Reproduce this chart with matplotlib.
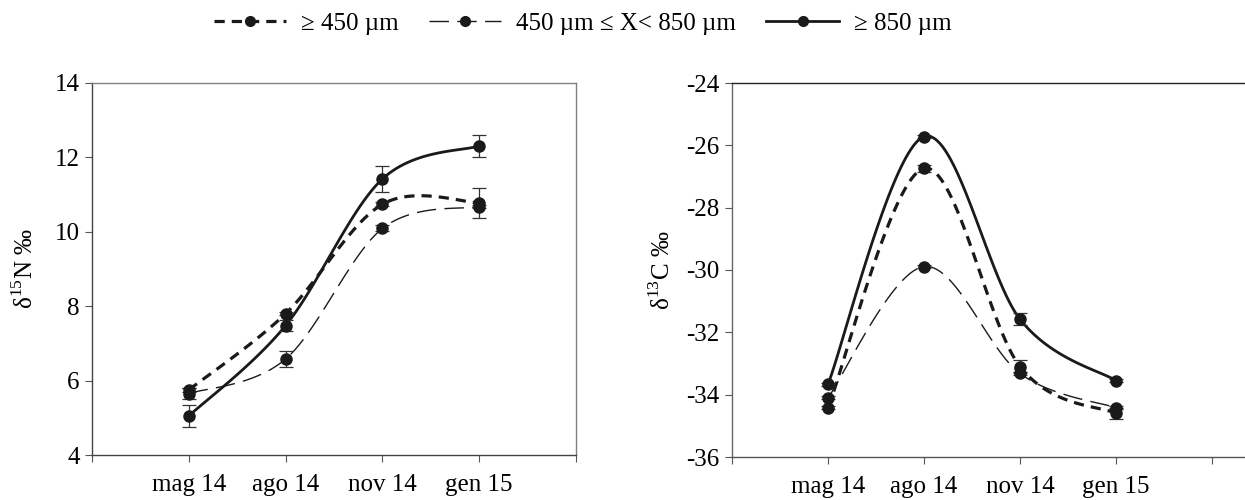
import numpy as np
import matplotlib
matplotlib.use("Agg")
import matplotlib.pyplot as plt
from matplotlib.lines import Line2D

plt.rcParams["font.family"] = ["Liberation Serif", "DejaVu Serif"]
plt.rcParams["mathtext.fontset"] = "custom"
plt.rcParams["mathtext.rm"] = "Liberation Serif"
plt.rcParams["axes.unicode_minus"] = False

months = ["mag 14", "ago 14", "nov 14", "gen 15"]
series_labels = ["\u2265 450 \u00b5m", "450 \u00b5m \u2264 X< 850 \u00b5m", "\u2265 850 \u00b5m"]

# delta 15N (per mil)
n15_450 = [5.75, 7.80, 10.74, 10.78]
n15_450_850 = [5.65, 6.58, 10.09, 10.68]
n15_850 = [5.05, 7.48, 11.42, 12.31]
n15_450_err = [0.05, 0.05, 0.05, 0.40]
n15_450_850_err = [0.15, 0.22, 0.08, 0.05]
n15_850_err = [0.30, 0.15, 0.34, 0.30]

# delta 13C (per mil)
c13_450 = [-34.42, -26.74, -33.10, -34.60]
c13_450_850 = [-34.10, -29.89, -33.32, -34.42]
c13_850 = [-33.67, -25.72, -31.58, -33.55]
c13_450_err = [0.05, 0.12, 0.20, 0.18]
c13_450_850_err = [0.05, 0.05, 0.05, 0.05]
c13_850_err = [0.05, 0.05, 0.19, 0.05]

styles = [
    dict(color="#1a1a1a", lw=2.3, dashes=(3.2, 2.2)),
    dict(color="#1a1a1a", lw=1.0, dashes=(14, 6)),
    dict(color="#1a1a1a", lw=2.0),
]


def smooth(x, y, n=40):
    """Smoothed Bezier path through the points (Catmull-Rom style)."""
    P = np.column_stack([np.asarray(x, float), np.asarray(y, float)])
    Pe = np.vstack([P[0], P, P[-1]])
    out = []
    t = np.linspace(0, 1, n)[:, None]
    for i in range(len(P) - 1):
        p0 = Pe[i + 1]
        p3 = Pe[i + 2]
        c1 = p0 + (Pe[i + 2] - Pe[i]) / 6.0
        c2 = p3 - (Pe[i + 3] - Pe[i + 1]) / 6.0
        seg = ((1 - t) ** 3) * p0 + 3 * ((1 - t) ** 2) * t * c1 + 3 * (1 - t) * t ** 2 * c2 + t ** 3 * p3
        out.append(seg if i == 0 else seg[1:])
    seg = np.vstack(out)
    return seg[:, 0], seg[:, 1]


def draw_panel(ax, series, errs, ylim, yticks, ylabel, labelpad):
    xs = np.arange(1, len(months) + 1)
    for vals, err, st in zip(series, errs, styles):
        sx, sy = smooth(xs, vals)
        kw = dict(color=st["color"], lw=st["lw"])
        if "dashes" in st:
            kw["dashes"] = st["dashes"]
        else:
            kw["linestyle"] = "-"
        ax.plot(sx, sy, solid_capstyle="butt", dash_capstyle="butt", zorder=2, **kw)
        ax.errorbar(xs, vals, yerr=err, fmt="none", ecolor="#333333",
                    elinewidth=0.9, capsize=5, capthick=0.9, zorder=3)
        ax.plot(xs, vals, "o", color="#1a1a1a", ms=8, zorder=4)
    ax.set_ylim(*ylim)
    ax.set_yticks(yticks)
    ax.set_xticks(np.arange(0, 6))
    ax.set_xticklabels([""] + months + [""])
    ax.tick_params(axis="both", direction="out", length=5, width=0.8,
                   colors="#555555", labelcolor="black", labelsize=18)
    ax.tick_params(axis="x", pad=9)
    ax.tick_params(axis="y", pad=4)
    ax.set_ylabel(ylabel, fontsize=18, labelpad=labelpad)


fig = plt.figure(figsize=(12.45, 5.0), dpi=100)

ax1 = fig.add_axes([92 / 1245, 45 / 500, 484 / 1245, 372 / 500])
draw_panel(ax1, [n15_450, n15_450_850, n15_850],
           [n15_450_err, n15_450_850_err, n15_850_err],
           (4, 14), np.arange(4, 15, 2), "\u03b4$^{15}$N \u2030", 12)
ax1.set_xlim(0, 5)
for s in ["top", "right"]:
    ax1.spines[s].set_color("#808080")
for s in ["left", "bottom"]:
    ax1.spines[s].set_color("#444444")
for s in ax1.spines.values():
    s.set_linewidth(1.0)

ax2 = fig.add_axes([732 / 1245, 43 / 500, 528 / 1245, 374 / 500])
draw_panel(ax2, [c13_450, c13_450_850, c13_850],
           [c13_450_err, c13_450_850_err, c13_850_err],
           (-36, -24), np.arange(-36, -23, 2), "\u03b4$^{13}$C \u2030", 8)
ax2.set_xlim(0, 5.5)
ax2.spines["right"].set_visible(False)
ax2.spines["top"].set_color("#222222")
ax2.spines["left"].set_color("#666666")
ax2.spines["bottom"].set_color("#555555")
for s in ax2.spines.values():
    s.set_linewidth(1.0)

handles = []
for st in styles:
    kw = dict(color=st["color"], lw=st["lw"], marker="o", ms=7)
    if "dashes" in st:
        kw["dashes"] = st["dashes"]
    handles.append(Line2D([], [], **kw))
fig.legend(handles, series_labels, loc="center", bbox_to_anchor=(0.468, 0.953),
           ncol=3, frameon=False, fontsize=18, handlelength=2.9,
           columnspacing=1.2, handletextpad=0.6)

fig.savefig("out.png", dpi=100)
